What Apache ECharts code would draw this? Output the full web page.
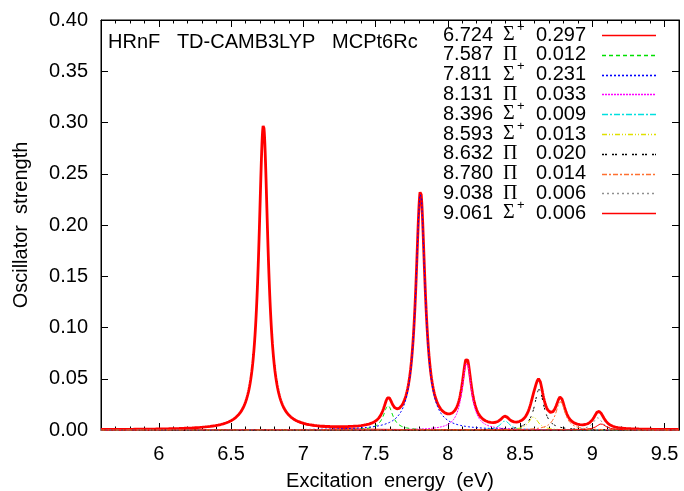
<!DOCTYPE html>
<html><head><meta charset="utf-8">
<script src="https://cdn.jsdelivr.net/npm/echarts@6/dist/echarts.min.js"></script>
<style>html,body{margin:0;padding:0;background:#fff}#c{width:684px;height:491px}</style>
</head><body><div id="c"></div>
<script>
// ---- data ----
const energies   = [6.724, 7.587, 7.811, 8.131, 8.396, 8.593, 8.632, 8.780, 9.038, 9.061];
const symmetries = ['Σ+', 'Π', 'Σ+', 'Π', 'Σ+', 'Σ+', 'Π', 'Π', 'Π', 'Σ+'];
const strengths  = [0.297, 0.012, 0.231, 0.033, 0.009, 0.013, 0.020, 0.014, 0.006, 0.006];
const xTickValues = [6, 6.5, 7, 7.5, 8, 8.5, 9, 9.5];
const yTickValues = [0, 0.05, 0.10, 0.15, 0.20, 0.25, 0.30, 0.35, 0.40];
const titleText = 'HRnF   TD-CAMB3LYP   MCPt6Rc';

// ---- styling ----
const FWHM = 0.078;      // Lorentzian broadening (eV)
const X_MIN = 5.6, X_MAX = 9.6, STEP = 0.002;
const colors = ['#ff0000', '#00e000', '#0000ff', '#ff00ff', '#00e0e0', '#e0e000', '#000000', '#ff7030', '#909090', '#ff0000'];
const dashes = ['solid', [4, 3], [2, 2], [2, 1], [6, 2, 2, 2], [5, 2, 1, 2, 1, 2], [2, 1, 2, 5], [5, 2, 2, 2], [2, 3], 'solid'];
const FONT = 'Liberation Sans';
const FS = 20;

const degeneracy = symmetries.map(s => s === 'Π' ? 2 : 1);
const xs = [];
for (let i = 0; X_MIN + i * STEP <= X_MAX + 1e-9; i++) xs.push(+(X_MIN + i * STEP).toFixed(4));

function lorentz(e, h, x) {
  const t = 2 * (x - e) / FWHM;
  return h / (1 + t * t);
}
const compData = energies.map((e, k) => xs.map(x => [x, lorentz(e, strengths[k] * degeneracy[k], x)]));
const totalData = xs.map((x, i) => [x, compData.reduce((s, c) => s + c[i][1], 0)]);

const names = energies.map(e => e.toFixed(3));

const series = [{
  name: 'total', type: 'line', data: totalData, showSymbol: false, symbol: 'none',
  lineStyle: { color: '#ff0000', width: 2.8 }, z: 2, silent: true, animation: false
}];
energies.forEach((e, k) => {
  series.push({
    name: names[k], type: 'line', data: compData[k], showSymbol: false, symbol: 'none',
    itemStyle: { color: colors[k] },
    lineStyle: { color: colors[k], width: 1, type: dashes[k] }, z: 3, silent: true, animation: false
  });
});

// key (legend table: energy, symmetry, strength, line sample)
const ROW0 = 35, ROWH = 19.8;
const keyElems = [];
energies.forEach((e, k) => {
  const y = ROW0 + k * ROWH;
  keyElems.push({ type: 'text', x: 443, y: y, style: { text: names[k], font: FS + 'px "' + FONT + '"', fill: '#000', textVerticalAlign: 'middle' } });
  const isPi = symmetries[k] === 'Π';
  keyElems.push({ type: 'text', x: 503, y: y, style: { text: isPi ? 'Π' : 'Σ', font: FS + 'px "Liberation Serif"', fill: '#000', textVerticalAlign: 'middle' } });
  if (!isPi) keyElems.push({ type: 'text', x: 517, y: y - 8, style: { text: '+', font: '13px "' + FONT + '"', fill: '#000', textVerticalAlign: 'middle' } });
  keyElems.push({ type: 'text', x: 536, y: y, style: { text: strengths[k].toFixed(3), font: FS + 'px "' + FONT + '"', fill: '#000', textVerticalAlign: 'middle' } });
  const ly = Math.round(y) + 0.5;
  keyElems.push({ type: 'line', shape: { x1: 602, y1: ly, x2: 656, y2: ly },
    style: { stroke: colors[k], lineWidth: 1.6, lineDash: dashes[k] === 'solid' ? null : dashes[k] } });
});

const axisLine = { show: true, lineStyle: { color: '#000', width: 1 } };
const chart = echarts.init(document.getElementById('c'), null, { renderer: 'canvas' });
chart.setOption({
  animation: false,
  backgroundColor: '#fff',
  textStyle: { fontFamily: FONT },
  grid: { left: 101, right: 5, top: 20, bottom: 61, show: true, borderColor: '#000', borderWidth: 1,
          backgroundColor: 'transparent', containLabel: false, outerBoundsMode: 'none' },
  title: { text: titleText, left: 108, top: 32, padding: 0, textStyle: { fontFamily: FONT, fontSize: FS, fontWeight: 'normal', color: '#000' } },
  graphic: keyElems,
  xAxis: [
    { type: 'value', position: 'bottom', min: X_MIN, max: X_MAX,
      name: 'Excitation  energy  (eV)', nameLocation: 'middle', nameGap: 41,
      nameTextStyle: { fontFamily: FONT, fontSize: FS, color: '#000' },
      axisLine: axisLine, splitLine: { show: false },
      axisTick: { show: true, inside: true, length: 7, customValues: xTickValues, lineStyle: { color: '#000' } },
      axisLabel: { show: true, customValues: xTickValues, fontSize: FS, color: '#000', margin: 14, fontFamily: FONT, formatter: v => String(v) } },
    { type: 'value', position: 'bottom', min: X_MIN, max: X_MAX, interval: 0.1,
      axisLine: { show: false }, splitLine: { show: false }, axisLabel: { show: false },
      axisTick: { show: true, inside: true, length: 3.5, lineStyle: { color: '#000' } } },
    { type: 'value', position: 'top', min: X_MIN, max: X_MAX,
      axisLine: axisLine, splitLine: { show: false }, axisLabel: { show: false },
      axisTick: { show: true, inside: true, length: 7, customValues: xTickValues, lineStyle: { color: '#000' } } },
    { type: 'value', position: 'top', min: X_MIN, max: X_MAX, interval: 0.1,
      axisLine: { show: false }, splitLine: { show: false }, axisLabel: { show: false },
      axisTick: { show: true, inside: true, length: 3.5, lineStyle: { color: '#000' } } }
  ],
  yAxis: [
    { type: 'value', position: 'left', min: 0, max: 0.4, interval: 0.05,
      name: 'Oscillator  strength', nameLocation: 'middle', nameGap: 70,
      nameTextStyle: { fontFamily: FONT, fontSize: FS, color: '#000' },
      axisLine: axisLine, splitLine: { show: false },
      axisTick: { show: true, inside: true, length: 7, customValues: yTickValues, lineStyle: { color: '#000' } },
      axisLabel: { show: true, customValues: yTickValues, fontSize: FS, color: '#000', margin: 13, fontFamily: FONT, formatter: v => v.toFixed(2) } },
    { type: 'value', position: 'right', min: 0, max: 0.4, interval: 0.05,
      axisLine: axisLine, splitLine: { show: false }, axisLabel: { show: false },
      axisTick: { show: true, inside: true, length: 7, lineStyle: { color: '#000' } } }
  ],
  series: series
});
</script></body></html>
